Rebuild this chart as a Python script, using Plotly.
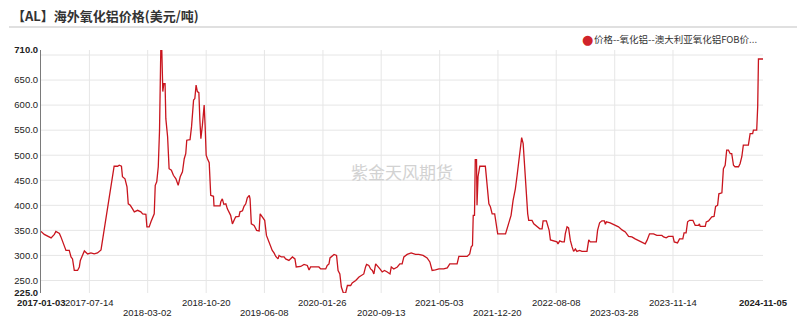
import pandas as pd
import plotly.graph_objects as go

START = "2017-01-03"
END = "2024-11-05"

# day offsets from START
DAYS = [0, 13, 40, 53, 59, 73, 79, 86, 92, 99, 112, 119, 125, 132, 145, 152, 156, 165, 172, 185,
        198, 211, 224, 238, 244, 251, 257, 264, 271, 277, 284, 290, 304, 310, 319, 323, 333, 341, 346, 354,
        363, 370, 383, 396, 403, 416, 420, 429, 436, 442, 449, 453, 459, 465, 470, 475, 479, 483, 487, 492,
        495, 502, 508, 517, 525, 535, 544, 552, 561, 568, 574, 578, 591, 597, 605, 610, 615, 620, 626, 630,
        634, 640, 647, 651, 655, 660, 667, 673, 684, 686, 700, 710, 713, 719, 725, 733, 739, 746, 752, 759,
        766, 772, 785, 789, 799, 805, 812, 818, 826, 829, 834, 845, 855, 865, 869, 878, 887, 894, 902, 908,
        917, 924, 931, 940, 944, 953, 964, 970, 983, 997, 1007, 1012, 1030,
        1043, 1056, 1063, 1069, 1089, 1102, 1109, 1129, 1135, 1142, 1146, 1155, 1162, 1172, 1178, 1185,
        1191, 1199, 1208, 1215, 1228, 1234, 1248, 1261, 1274, 1280, 1287, 1291, 1300, 1307, 1314, 1320,
        1327, 1333, 1344, 1353, 1362, 1373, 1384, 1389, 1399, 1413, 1423, 1432, 1439, 1452, 1468, 1485,
        1498, 1515, 1531, 1542, 1551, 1564, 1578, 1597, 1611, 1621, 1650,
        1657, 1690, 1700, 1706, 1711, 1714, 1719, 1722, 1727, 1729, 1733, 1740, 1762, 1769, 1776, 1782,
        1789, 1799, 1806, 1811, 1842, 1848, 1855, 1864, 1872, 1881, 1888, 1894, 1901, 1906, 1912, 1917,
        1925, 1930, 1934, 1947, 1954, 1967, 1978, 1987, 1991, 2004, 2009, 2015, 2020, 2033, 2046, 2050,
        2057, 2066, 2075, 2079, 2086, 2092, 2099, 2106, 2112, 2119, 2125, 2136, 2145, 2165, 2172, 2178,
        2202, 2207, 2215, 2224, 2234, 2238, 2242, 2257, 2277, 2290, 2304, 2317, 2330, 2343, 2356, 2370,
        2383, 2396, 2403, 2413, 2429, 2442, 2462, 2469, 2479, 2488, 2506, 2511, 2524, 2532, 2545, 2550,
        2558, 2564, 2572, 2585, 2594, 2607, 2611, 2614, 2634, 2638, 2647, 2660, 2669, 2675, 2683, 2688,
        2700, 2706, 2713, 2719, 2726, 2733, 2739, 2746, 2752, 2766, 2772, 2779, 2785, 2805, 2812, 2822,
        2825, 2838, 2842, 2845, 2863]

PRICE = [348, 342, 335, 342, 348, 344, 337, 327, 317, 310, 310, 297, 293, 270, 270, 277, 290, 300, 309, 303,
         305, 303, 305, 311, 330, 353, 373, 393, 417, 437, 450, 478, 478, 480, 478, 457, 453, 437, 403, 400,
         393, 387, 390, 387, 383, 382, 357, 357, 367, 373, 383, 440, 447, 477, 550, 710, 710, 627, 643, 643,
         573, 537, 473, 470, 460, 453, 440, 457, 467, 493, 503, 530, 531, 557, 610, 613, 640, 627, 625, 570,
         533, 560, 600, 557, 500, 493, 485, 420, 418, 399, 399, 399, 407, 413, 402, 403, 393, 387, 380, 363,
         370, 377, 378, 387, 389, 398, 403, 415, 420, 413, 363, 360, 350, 349, 383, 377, 370, 340, 330, 320,
         310, 305, 298, 293, 300, 297, 297, 293, 290, 297, 293, 277, 278,
         282, 280, 271, 277, 277, 277, 273, 273, 280, 283, 295, 300, 302, 300, 270, 263,
         237, 225, 225, 240, 240, 245, 250, 257, 260, 263, 277, 282, 280, 273, 270, 263,
         283, 280, 273, 267, 270, 267, 263, 277, 273, 277, 283, 283, 297, 302, 305, 302,
         302, 300, 295, 287, 270, 271, 273, 273, 275, 283, 283,
         298, 298, 303, 317, 320, 380, 380, 491, 491, 400, 457, 478, 478, 433, 403, 397,
         383, 383, 360, 343, 343, 353, 363, 380, 410, 433, 460, 483, 517, 535, 523, 477,
         410, 383, 370, 370, 363, 357, 353, 353, 369, 369, 360, 350, 331, 329, 327, 323,
         329, 327, 327, 343, 357, 355, 330, 317, 308, 313, 308, 310, 308, 308, 331, 327,
         327, 350, 365, 369, 369, 362, 367, 365, 360, 357, 351, 347, 338, 337, 333, 329,
         327, 323, 330, 343, 343, 340, 340, 337, 335, 338, 338, 327, 325, 333, 333, 345,
         345, 367, 370, 370, 360, 360, 363, 358, 358, 367, 369, 377, 378, 398, 400, 423,
         425, 473, 480, 510, 510, 503, 503, 480, 477, 477, 483, 497, 520, 520, 543, 543,
         550, 550, 597, 692, 692]

SERIES_NAME = "价格--氧化铝--澳大利亚氧化铝FOB价..."
TITLE = "【AL】海外氧化铝价格(美元/吨)"
WATERMARK = "紫金天风期货"

X_LABELS_ROW1 = ["2017-01-03", "2017-07-14", "2018-10-20", "2020-01-26", "2021-05-03",
                 "2022-08-08", "2023-11-14", "2024-11-05"]
X_LABELS_ROW2 = ["2018-03-02", "2019-06-08", "2020-09-13", "2021-12-20", "2023-03-28"]
Y_TICKS = [225, 250, 300, 350, 400, 450, 500, 550, 600, 650, 710]
Y_GRID = [250, 300, 350, 400, 450, 500, 550, 600, 650, 700]

dates = pd.Timestamp(START) + pd.to_timedelta(DAYS, unit="D")

W, H = 804, 318
ML, MR, MT, MB = 41, 41, 50, 25
PW, PH = W - ML - MR, H - MT - MB


def px_x(px):
    return (px - ML) / PW


def px_y(py):
    return (H - MB - py) / PH


LINE_RED = "#c9151e"
FONT = "Liberation Sans, Arial, sans-serif"
CJK = "Noto Sans CJK SC"
TICK_SIZE = 9.5

fig = go.Figure()
fig.add_trace(go.Scatter(x=dates, y=PRICE, mode="lines",
                         line=dict(color=LINE_RED, width=1.3), name=SERIES_NAME,
                         showlegend=False))

shapes = []
for v in Y_GRID:
    shapes.append(dict(type="line", xref="paper", yref="y", x0=0, x1=1, y0=v, y1=v,
                       line=dict(color="#e6e6e6", width=1), layer="below"))
interior = sorted(X_LABELS_ROW1[1:-1] + X_LABELS_ROW2)
for d in interior:
    shapes.append(dict(type="line", xref="x", yref="paper", x0=d, x1=d, y0=0, y1=1,
                       line=dict(color="#e6e6e6", width=1), layer="below"))
# title separator
shapes.append(dict(type="line", xref="paper", yref="paper", x0=px_x(9), x1=px_x(797),
                   y0=px_y(27), y1=px_y(27), line=dict(color="#d6d6d6", width=1.5)))

ann = []
for i, d in enumerate(X_LABELS_ROW1):
    txt = f"<b>{d}</b>" if i in (0, len(X_LABELS_ROW1) - 1) else d
    ann.append(dict(x=d, xref="x", y=0, yref="paper", yanchor="middle", xanchor="center",
                    yshift=-9.5, text=txt, showarrow=False,
                    font=dict(family=FONT, size=TICK_SIZE, color="#222")))
for d in X_LABELS_ROW2:
    ann.append(dict(x=d, xref="x", y=0, yref="paper", yanchor="middle", xanchor="center",
                    yshift=-19.5, text=d, showarrow=False,
                    font=dict(family=FONT, size=TICK_SIZE, color="#222")))
ann.append(dict(x=px_x(10), y=px_y(15), xref="paper", yref="paper", xanchor="left",
                yanchor="middle", text=f"<b>{TITLE}</b>", showarrow=False,
                font=dict(family=CJK, size=13, color="#333")))
ann.append(dict(x=px_x(587), y=px_y(39.5), xref="paper", yref="paper", xanchor="center",
                yanchor="middle", text="●", showarrow=False,
                font=dict(family="DejaVu Sans", size=13, color="#d0232a")))
ann.append(dict(x=px_x(592), y=px_y(39), xref="paper", yref="paper", xanchor="left",
                yanchor="middle", text=SERIES_NAME, showarrow=False,
                font=dict(family=CJK, size=9.5, color="#333")))
ann.append(dict(x=0.5, y=0.5, xref="paper", yref="paper", xanchor="center", yanchor="middle",
                text=WATERMARK, showarrow=False,
                font=dict(family=CJK, size=17, color="#d2d2d2")))

ytext = [(f"<b>{v:.1f}</b>" if v in (Y_TICKS[0], Y_TICKS[-1]) else f"{v:.1f}") for v in Y_TICKS]

fig.update_layout(
    width=W, height=H, autosize=False,
    margin=dict(l=ML, r=MR, t=MT, b=MB, pad=0),
    paper_bgcolor="white", plot_bgcolor="white",
    xaxis=dict(range=[START, END], showgrid=False, showticklabels=False, zeroline=False,
               showline=False, ticks=""),
    yaxis=dict(range=[225, 710], tickvals=Y_TICKS, ticktext=ytext, showgrid=False,
               zeroline=False, showline=True, linecolor="#7a7a7a", linewidth=1, ticks="",
               tickfont=dict(family=FONT, size=TICK_SIZE, color="#222")),
    shapes=shapes, annotations=ann, showlegend=False,
)

fig.write_html("out.html")
